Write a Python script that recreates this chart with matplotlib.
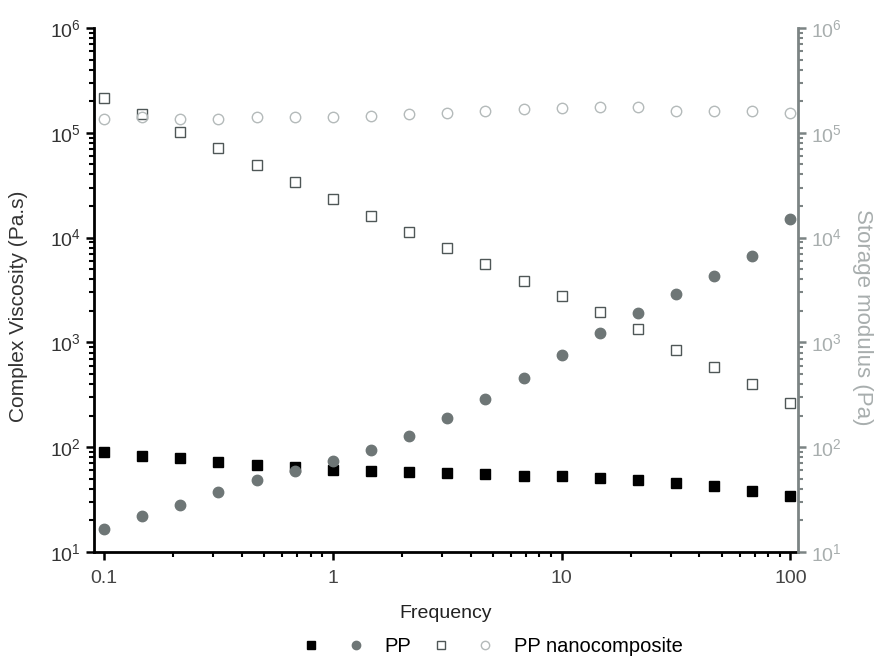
import numpy as np
import matplotlib
matplotlib.use("Agg")
import matplotlib.pyplot as plt
from matplotlib.ticker import LogLocator, LogFormatterMathtext, NullFormatter, FixedLocator, FixedFormatter
from matplotlib.legend_handler import HandlerTuple
from matplotlib.lines import Line2D

plt.rcParams['font.family'] = ['Liberation Sans', 'DejaVu Sans']
plt.rcParams['mathtext.fontset'] = 'custom'
plt.rcParams['mathtext.rm'] = 'Liberation Sans'
plt.rcParams['mathtext.it'] = 'Liberation Sans'

frequency = [0.1, 0.1468, 0.2154, 0.3162, 0.4642, 0.6813, 1.0, 1.468, 2.154, 3.162,
             4.642, 6.813, 10.0, 14.68, 21.54, 31.62, 46.42, 68.13, 100.0]

pp_viscosity = [90.6, 83, 78.4, 72.3, 67.2, 64.3, 60.2, 58.9, 57.6, 56.4,
                55.1, 53.5, 53.1, 51.2, 48.6, 45.8, 43.0, 38.5, 34.2]
pp_modulus = [16.7, 22.1, 28.1, 37.1, 48.6, 59.3, 73.8, 93.4, 128, 188,
              286, 457, 759, 1230, 1910, 2890, 4290, 6640, 15100]
nano_viscosity = [216000, 150000, 102500, 71100, 49300, 34100, 23300, 16200, 11300, 7900,
                  5570, 3880, 2770, 1950, 1340, 850, 585, 398, 262]
nano_modulus = [135500, 142000, 136000, 136000, 142000, 142000, 141500, 144600, 151000, 154500,
                161500, 168700, 172500, 175000, 177500, 162500, 162500, 162500, 153500]

x_ticks = [0.1, 1, 10, 100]
x_ticklabels = ["0.1", "1", "10", "100"]

fig = plt.figure(figsize=(8.79, 6.6), dpi=100)
ax = fig.add_axes([0.107, 0.1636, 0.801, 0.794])
ax2 = ax.twinx()

black = "#000000"
gray_fill = "#6e7676"
gray_open = "#4f5757"
light = "#b4baba"
axis_gray = "#7c8484"
label_gray = "#a8aeae"

ax.plot(frequency, pp_viscosity, 's', ms=7.5, color=black, mec=black, zorder=3)
ax.plot(frequency, nano_viscosity, 's', ms=7.5, mfc='white', mec=gray_open, mew=1.0, zorder=3)
ax2.plot(frequency, pp_modulus, 'o', ms=7.5, color=gray_fill, mec=gray_fill, zorder=3)
ax2.plot(frequency, nano_modulus, 'o', ms=7.5, mfc='none', mec=light, mew=1.0, zorder=3)

for a in (ax, ax2):
    a.set_xscale('log')
    a.set_yscale('log')
    a.set_ylim(10, 1e6)
    a.set_xlim(0.0905, 108)

ax.xaxis.set_major_locator(FixedLocator(x_ticks))
ax.xaxis.set_major_formatter(FixedFormatter(x_ticklabels))
ax.xaxis.set_minor_locator(LogLocator(base=10, subs=np.arange(2, 10)))
ax.xaxis.set_minor_formatter(NullFormatter())

for a in (ax, ax2):
    a.yaxis.set_major_locator(LogLocator(base=10, numticks=10))
    a.yaxis.set_major_formatter(LogFormatterMathtext())
    a.yaxis.set_minor_locator(LogLocator(base=10, subs=np.arange(2, 10), numticks=10))
    a.yaxis.set_minor_formatter(NullFormatter())

ax.spines['top'].set_visible(False)
ax.spines['right'].set_visible(False)
ax2.spines['top'].set_visible(False)
ax2.spines['left'].set_visible(False)
ax2.spines['bottom'].set_visible(False)
ax.spines['left'].set_linewidth(2)
ax.spines['bottom'].set_linewidth(2)
ax2.spines['right'].set_linewidth(2)
ax2.spines['right'].set_color(axis_gray)

ax.tick_params(axis='both', which='major', direction='out', length=6, width=1.8, labelsize=14, colors=black)
ax.tick_params(axis='both', which='minor', direction='out', length=3.5, width=1.5, colors=black)
ax.tick_params(axis='y', labelcolor="#333333")
ax.tick_params(axis='x', labelcolor="#444444", pad=7)
ax2.tick_params(axis='y', which='major', direction='out', length=6, width=1.8, labelsize=14,
                color=axis_gray, labelcolor=label_gray)
ax2.tick_params(axis='y', which='minor', direction='out', length=3.5, width=1.5, color=axis_gray)

ax.set_xlabel("Frequency", fontsize=14, color="#222222", labelpad=13)
ax.set_ylabel("Complex Viscosity (Pa.s)", fontsize=15, color="#333333", va='center')
ax.yaxis.set_label_coords(-0.108, 0.469)
ax2.set_ylabel("Storage modulus (Pa)", fontsize=16, color=label_gray, rotation=270, va='center')
ax2.yaxis.set_label_coords(1.092, 0.448)

h1 = (Line2D([], [], ls='none', marker='s', ms=6, color=black),
      Line2D([], [], ls='none', marker='o', ms=6, color=gray_fill))
h2 = (Line2D([], [], ls='none', marker='s', ms=6, mfc='white', mec=gray_open),
      Line2D([], [], ls='none', marker='o', ms=6, mfc='none', mec=light))
fig.legend([h1, h2], ["PP", "PP nanocomposite"],
           handler_map={tuple: HandlerTuple(ndivide=None, pad=0.7)},
           loc='center', bbox_to_anchor=(0.557, 0.02), ncol=2, frameon=False,
           fontsize=14.5, handlelength=3.7, columnspacing=0.7, handletextpad=0.7,
           borderpad=0.0)

fig.savefig("out.png", dpi=100)
